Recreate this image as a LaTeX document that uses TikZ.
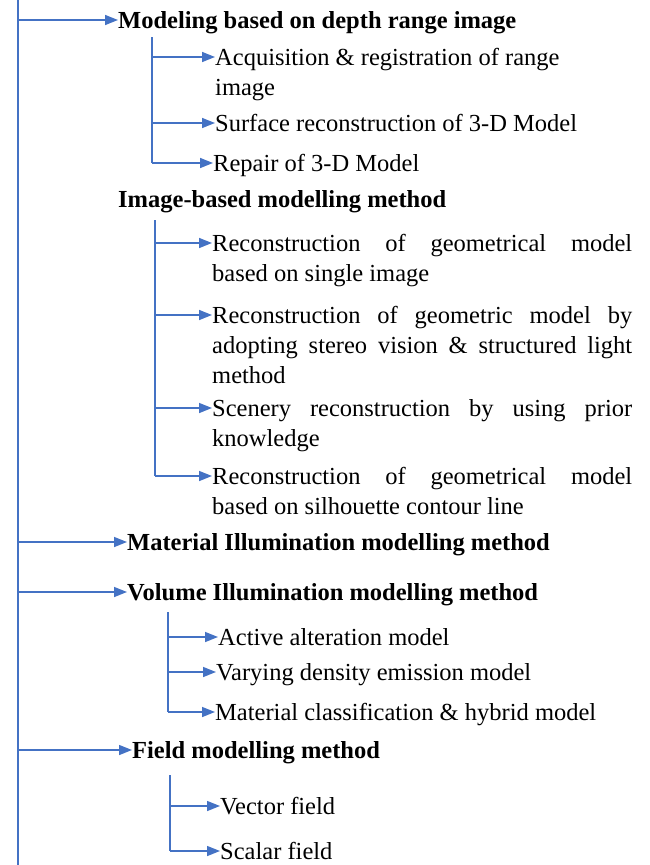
\documentclass[tikz,border=0pt]{standalone}
\usepackage{fontspec}
\setmainfont{Liberation Serif}
\usetikzlibrary{arrows.meta}
\definecolor{lineblue}{RGB}{68,114,196}
\tikzset{
	link/.style={draw=lineblue,line width=1.5pt},
	arr/.style={link,-{Triangle[length=13pt,width=10pt]}},
	head/.style={anchor=base west,yshift=-8pt,inner sep=0pt,font=\fontsize{24.5}{30}\selectfont\bfseries},
	item/.style={anchor=base west,yshift=-8pt,inner sep=0pt,font=\fontsize{24.5}{30}\selectfont},
	para/.style={item,text width=420pt,align=justify}
}
\begin{document}
\begin{tikzpicture}[x=1pt,y=-1pt]
		\useasboundingbox (0,0) rectangle (649,865);
		% main line
		\coordinate (T) at (18,0);
		\coordinate (B) at (18,868);
		\draw[link](T)--(B);
		% depth range image
		\coordinate (M1) at (18,20);
		\node[head] (H1) at (118,20) {Modeling based on depth range image};
		\draw[arr](M1)--(M1-|H1.west);
		\coordinate (S1) at (152,37);
		\coordinate (A1) at (152,57);
		\coordinate (A2) at (152,123);
		\coordinate (A3) at (152,163);
		\node[item,text width=430pt,align=flush left] (N1) at (215,57) {Acquisition \& registration of range\\image};
		\node[item] (N2) at (215,123) {Surface reconstruction of 3-D Model};
		\node[item] (N3) at (213,163) {Repair of 3-D Model};
		\draw[link](S1)--(A3);
		\foreach \i in {1,2,3} \draw[arr](A\i)--(A\i-|N\i.west);
		% image based
		\node[head] (H2) at (118,199) {Image-based modelling method};
		\coordinate (S2) at (155,220);
		\coordinate (B1) at (155,243);
		\coordinate (B2) at (155,315);
		\coordinate (B3) at (155,408);
		\coordinate (B4) at (155,476);
		\node[para] (P1) at (212,243) {Reconstruction of geometrical model\linebreak based on single image};
		\node[para] (P2) at (212,315) {Reconstruction of geometric model by\linebreak adopting stereo vision \& structured light\linebreak method};
		\node[para] (P3) at (212,408) {Scenery reconstruction by using prior\linebreak knowledge};
		\node[para] (P4) at (212,476) {Reconstruction of geometrical model\linebreak based on silhouette contour line};
		\draw[link](S2)--(B4);
		\foreach \i in {1,...,4} \draw[arr](B\i)--(B\i-|P\i.west);
		% material illumination
		\coordinate (M3) at (18,542);
		\node[head] (H3) at (127,542) {Material Illumination modelling method};
		\draw[arr](M3)--(M3-|H3.west);
		% volume illumination
		\coordinate (M4) at (18,592);
		\node[head] (H4) at (127,592) {Volume Illumination modelling method};
		\draw[arr](M4)--(M4-|H4.west);
		\coordinate (S4) at (168,612);
		\coordinate (C1) at (168,637);
		\coordinate (C2) at (168,672);
		\coordinate (C3) at (168,712);
		\node[item] (V1) at (218,637) {Active alteration model};
		\node[item] (V2) at (216,672) {Varying density emission model};
		\node[item] (V3) at (215,712) {Material classification \& hybrid model};
		\draw[link](S4)--(C3);
		\foreach \i in {1,2,3} \draw[arr](C\i)--(C\i-|V\i.west);
		% field
		\coordinate (M5) at (18,750);
		\node[head] (H5) at (132,750) {Field modelling method};
		\draw[arr](M5)--(M5-|H5.west);
		\coordinate (S5) at (170,775);
		\coordinate (D1) at (170,806);
		\coordinate (D2) at (170,851);
		\node[item] (F1) at (220,806) {Vector field};
		\node[item] (F2) at (220,851) {Scalar field};
		\draw[link](S5)--(D2);
		\foreach \i in {1,2} \draw[arr](D\i)--(D\i-|F\i.west);
		\end{tikzpicture}
\end{document}
